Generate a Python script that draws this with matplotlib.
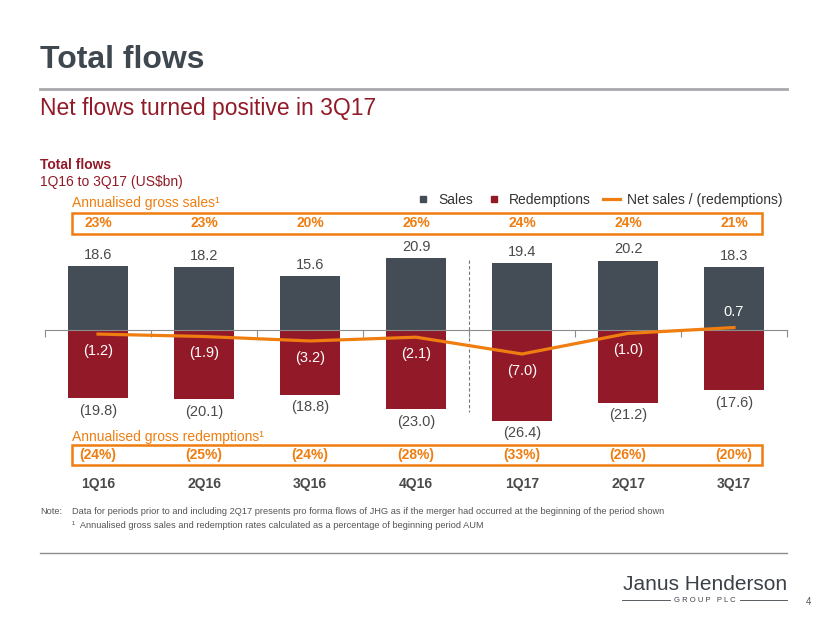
import matplotlib.pyplot as plt
from matplotlib.lines import Line2D
from matplotlib.patches import Rectangle
from matplotlib.transforms import blended_transform_factory

plt.rcParams['font.family'] = ['Liberation Sans', 'DejaVu Sans']

# data
quarters = ['1Q16', '2Q16', '3Q16', '4Q16', '1Q17', '2Q17', '3Q17']
sales = [18.6, 18.2, 15.6, 20.9, 19.4, 20.2, 18.3]
redemptions = [-19.8, -20.1, -18.8, -23.0, -26.4, -21.2, -17.6]
net = [-1.2, -1.9, -3.2, -2.1, -7.0, -1.0, 0.7]
sales_rate = ['23%', '23%', '20%', '26%', '24%', '24%', '21%']
redemption_rate = ['(24%)', '(25%)', '(24%)', '(28%)', '(33%)', '(26%)', '(20%)']

grey = '#444d55'
red = '#921a28'
orange = '#ef7d10'
title_col = '#3f474f'
text_col = '#4a4a4a'

W, H = 830, 623
def fy(py):
    return 1 - py / H
def fx(px):
    return px / W

def fmt(v):
    return f'({abs(v):.1f})' if v < 0 else f'{v:.1f}'

fig = plt.figure(figsize=(8.3, 6.23), dpi=100)

# header
fig.text(fx(40), fy(60), 'Total flows', fontsize=23, fontweight='bold',
         color=title_col, va='center')
fig.add_artist(Line2D([fx(40), fx(787)], [fy(89), fy(89)], color='#a7a9ac', lw=2))
fig.text(fx(40), fy(108), 'Net flows turned positive in 3Q17', fontsize=16.5,
         color=red, va='center')
fig.text(fx(40), fy(165), 'Total flows', fontsize=10, fontweight='bold',
         color=red, va='center')
fig.text(fx(40), fy(182), '1Q16 to 3Q17 (US$bn)', fontsize=10, color=red, va='center')

# chart
ax = fig.add_axes([fx(45), fy(445), fx(742), 205 / H])
x = list(range(len(quarters)))
ax.bar(x, sales, width=0.57, color=grey, zorder=2)
ax.bar(x, redemptions, width=0.57, color=red, zorder=2)
ax.plot(x, net, color=orange, lw=2.3, zorder=4)
ax.set_xlim(-0.5, 6.5)
ax.set_ylim(-33.5, 26.2)

for s in ['left', 'right', 'top']:
    ax.spines[s].set_visible(False)
ax.spines['bottom'].set_position(('data', 0))
ax.spines['bottom'].set_color('#8c8c8c')
ax.spines['bottom'].set_zorder(3)
ax.set_xticks([i - 0.5 for i in range(len(quarters) + 1)])
ax.set_xticklabels([])
ax.tick_params(axis='x', length=5, color='#8c8c8c', direction='out')
ax.set_yticks([])

ax.plot([3.5, 3.5], [20.4, -23.9], color='#777777', lw=0.8, ls=(0, (3, 2)), zorder=1)

for i in x:
    ax.annotate(fmt(sales[i]), (i, sales[i]), xytext=(0, 3), textcoords='offset points',
                ha='center', va='bottom', fontsize=10.5, color=text_col)
    ax.annotate(fmt(redemptions[i]), (i, redemptions[i]), xytext=(0, -4),
                textcoords='offset points', ha='center', va='top', fontsize=10.5,
                color=text_col, annotation_clip=False)
    off = 11 if net[i] > 0 else -12
    ax.annotate(fmt(net[i]), (i, net[i]), xytext=(0, off), textcoords='offset points',
                ha='center', va='center', fontsize=10.5, color='white', zorder=5)

# rate boxes
tr = blended_transform_factory(ax.transData, fig.transFigure)
fig.text(fx(72), fy(203), 'Annualised gross sales\u00b9', fontsize=10, color=orange, va='center')
fig.text(fx(72), fy(437), 'Annualised gross redemptions\u00b9', fontsize=10, color=orange, va='center')
for top, bot, labels in [(213, 234, sales_rate), (445, 465, redemption_rate)]:
    fig.add_artist(Rectangle((-0.245, fy(bot)), 6.51, fy(top) - fy(bot), transform=tr,
                             fill=False, edgecolor=orange, lw=1.8, clip_on=False))
    for i in x:
        fig.text(i, (fy(top) + fy(bot)) / 2, labels[i], transform=tr, ha='center',
                 va='center', fontsize=10, fontweight='bold', color=orange)

for i in x:
    fig.text(i, fy(484), quarters[i], transform=tr, ha='center', va='center',
             fontsize=10, fontweight='bold', color=text_col)

# legend
handles = [Line2D([], [], marker='s', ls='none', color=grey, markersize=5),
           Line2D([], [], marker='s', ls='none', color=red, markersize=5),
           Line2D([], [], color=orange, lw=2.3)]
fig.legend(handles, ['Sales', 'Redemptions', 'Net sales / (redemptions)'],
           loc='center right', bbox_to_anchor=(fx(795), fy(200)), ncol=3, frameon=False,
           fontsize=10, handlelength=1.2, handletextpad=0.5, columnspacing=0.9,
           labelcolor='#333333')

# notes
fig.text(fx(40), fy(512), 'Note:', fontsize=6.7, color='#555555', va='center')
fig.text(fx(72), fy(512), 'Data for periods prior to and including 2Q17 presents pro forma '
         'flows of JHG as if the merger had occurred at the beginning of the period shown',
         fontsize=6.7, color='#555555', va='center')
fig.text(fx(72), fy(525), '\u00b9  Annualised gross sales and redemption rates calculated as a '
         'percentage of beginning period AUM', fontsize=6.7, color='#555555', va='center')
fig.add_artist(Line2D([fx(40), fx(787)], [fy(553), fy(553)], color='#8c8c8c', lw=1))

# footer logo
fig.text(fx(787), fy(585), 'Janus Henderson', fontsize=15, color='#3b4148',
         ha='right', va='center')
fig.text(fx(705), fy(600), 'G R O U P   P L C', fontsize=5.5, color='#3b4148',
         ha='center', va='center')
fig.add_artist(Line2D([fx(622), fx(670)], [fy(600), fy(600)], color='#3b4148', lw=0.6))
fig.add_artist(Line2D([fx(740), fx(787)], [fy(600), fy(600)], color='#3b4148', lw=0.6))
fig.text(fx(808), fy(602), '4', fontsize=7, color='#555555', ha='center', va='center')

fig.savefig('out.png', dpi=100)
